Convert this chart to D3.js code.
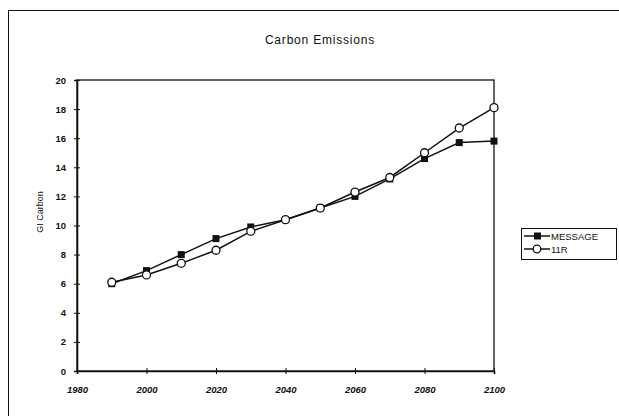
<!DOCTYPE html>
<html><head><meta charset="utf-8">
<script src="https://cdn.jsdelivr.net/npm/d3@7/dist/d3.min.js"></script>
<style>body{margin:0;background:#fff}svg{display:block}</style>
</head><body>
<svg id="c" width="619" height="416"></svg>
<script>
const years = [1990,2000,2010,2020,2030,2040,2050,2060,2070,2080,2090,2100];
const message = [6.0,6.9,8.0,9.1,9.9,10.4,11.2,12.0,13.2,14.6,15.7,15.8];
const r11 = [6.1,6.6,7.4,8.3,9.6,10.4,11.2,12.3,13.3,15.0,16.7,18.1];
const xTicks = [1980,2000,2020,2040,2060,2080,2100];
const yTicks = [0,2,4,6,8,10,12,14,16,18,20];
const seriesNames = ["MESSAGE","11R"];

const svg = d3.select("#c");
const font = "Liberation Sans, Arial, sans-serif";
const L = 77, R = 494, T = 80, B = 371;
const x = d3.scaleLinear().domain([1980,2100]).range([L,R]);
const y = d3.scaleLinear().domain([0,20]).range([B,T]);

// outer frame (right and bottom edges fall outside the picture)
svg.append("rect").attr("x",8.5).attr("y",10.5).attr("width",640).attr("height",440)
  .attr("fill","none").attr("stroke","#111").attr("stroke-width",1);

// title
svg.append("text").attr("x",320).attr("y",44).attr("text-anchor","middle")
  .attr("font-family",font).attr("font-size",12).attr("letter-spacing",0.8)
  .attr("fill","#111").text("Carbon Emissions");

// plot area border
svg.append("rect").attr("x",L).attr("y",T).attr("width",R-L).attr("height",B-T)
  .attr("fill","none").attr("stroke","#111").attr("stroke-width",1.3);

// y axis
const ya = svg.append("g").attr("transform",`translate(${L},0)`)
  .call(d3.axisLeft(y).tickValues(yTicks).tickSize(3).tickPadding(8));
ya.select(".domain").attr("stroke","#111").attr("stroke-width",1.6);
ya.selectAll(".tick line").attr("x2",3).attr("x1",-3).attr("stroke","#111");
ya.selectAll("text").attr("font-family",font).attr("font-size",9.5).attr("font-weight","bold").attr("fill","#111");

// x axis
const xa = svg.append("g").attr("transform",`translate(0,${B})`)
  .call(d3.axisBottom(x).tickValues(xTicks).tickFormat(d3.format("d")).tickSize(3).tickPadding(12));
xa.select(".domain").attr("stroke","#111").attr("stroke-width",1.6);
xa.selectAll(".tick line").attr("y1",-3).attr("y2",3).attr("stroke","#111");
xa.selectAll("text").attr("font-family",font).attr("font-size",9.5).attr("font-weight","bold")
  .attr("font-style","italic").attr("fill","#111");

// y label
svg.append("text").attr("transform","translate(43,212) rotate(-90)").attr("text-anchor","middle")
  .attr("font-family",font).attr("font-size",9).attr("fill","#111").text("GI Carbon");

const line = d3.line().x((d,i)=>x(years[i])).y(d=>y(d));
const g = svg.append("g");
g.append("path").datum(message).attr("d",line).attr("fill","none").attr("stroke","#111").attr("stroke-width",1.5);
g.append("path").datum(r11).attr("d",line).attr("fill","none").attr("stroke","#111").attr("stroke-width",1.5);
g.selectAll("rect.m").data(message).enter().append("rect")
  .attr("x",(d,i)=>x(years[i])-3.5).attr("y",d=>y(d)-3.5).attr("width",7).attr("height",7).attr("fill","#111");
g.selectAll("circle.r").data(r11).enter().append("circle")
  .attr("cx",(d,i)=>x(years[i])).attr("cy",d=>y(d)).attr("r",4)
  .attr("fill","#fff").attr("stroke","#111").attr("stroke-width",1.3);

// legend
const lg = svg.append("g");
lg.append("rect").attr("x",521.5).attr("y",228.5).attr("width",95).attr("height",31)
  .attr("fill","#fff").attr("stroke","#111").attr("stroke-width",1);
seriesNames.forEach((n,i)=>{
  const cy = 236 + i*13;
  lg.append("line").attr("x1",524).attr("x2",550).attr("y1",cy).attr("y2",cy).attr("stroke","#111").attr("stroke-width",1.5);
  if(i===0) lg.append("rect").attr("x",534).attr("y",cy-3.5).attr("width",7).attr("height",7).attr("fill","#111");
  else lg.append("circle").attr("cx",537).attr("cy",cy).attr("r",3.8).attr("fill","#fff").attr("stroke","#111").attr("stroke-width",1.3);
  lg.append("text").attr("x",551).attr("y",cy+3.5).attr("font-family",font).attr("font-size",9.5)
    .attr("fill","#111").text(n);
});
</script>
</body></html>
